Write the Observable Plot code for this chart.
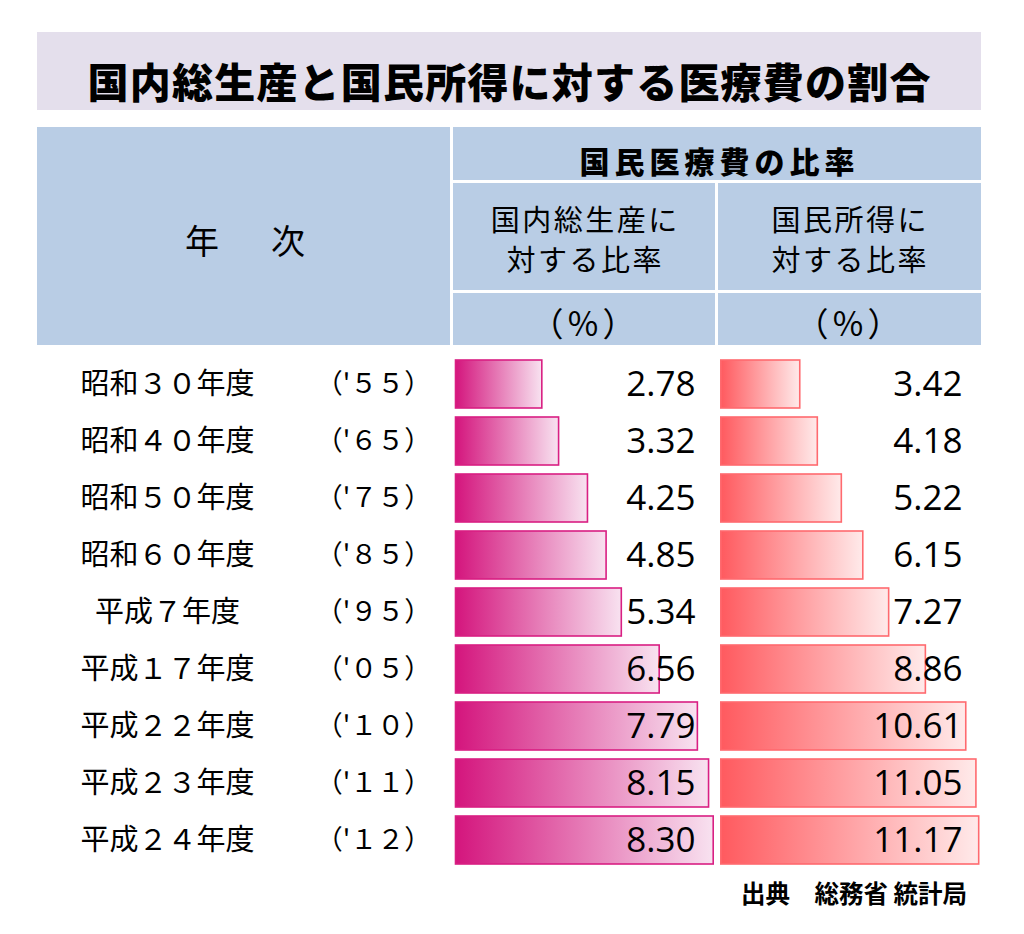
<!DOCTYPE html>
<html>
<head>
<meta charset="utf-8">
<script src="https://cdn.jsdelivr.net/npm/d3@7"></script>
<script src="https://cdn.jsdelivr.net/npm/@observablehq/plot@0.6"></script>
<style>
  html, body { margin: 0; padding: 0; background: #fff; }
  #root { position: relative; width: 1024px; height: 934px; overflow: hidden;
          font-family: "Noto Sans CJK JP", "Noto Sans", sans-serif; color: #000; }
  .abs { position: absolute; }
  .ctext { position: absolute; transform: translate(-50%, -50%); white-space: nowrap; line-height: 1; }
</style>
</head>
<body>
<div id="root"></div>
<script>
// ---- data ----
const eraLabels = ["昭和３０年度","昭和４０年度","昭和５０年度","昭和６０年度","平成７年度","平成１７年度","平成２２年度","平成２３年度","平成２４年度"];
const westernLabels = ["（'５５）","（'６５）","（'７５）","（'８５）","（'９５）","（'０５）","（'１０）","（'１１）","（'１２）"];
const gdpRatio = [2.78, 3.32, 4.25, 4.85, 5.34, 6.56, 7.79, 8.15, 8.30];
const incomeRatio = [3.42, 4.18, 5.22, 6.15, 7.27, 8.86, 10.61, 11.05, 11.17];

const titleText = "国内総生産と国民所得に対する医療費の割合";
const headYear = "年　次";
const headGroup = "国民医療費の比率";
const headGdp = ["国内総生産に", "対する比率"];
const headIncome = ["国民所得に", "対する比率"];
const headUnit = "（％）";
const sourceText = "出典　総務省 統計局";

const rows = eraLabels.map((era, i) => ({era, west: westernLabels[i], gdp: gdpRatio[i], income: incomeRatio[i]}));

const root = document.getElementById("root");
function box(left, top, w, h, bg) {
  const d = document.createElement("div");
  d.className = "abs";
  Object.assign(d.style, {left: left + "px", top: top + "px", width: w + "px", height: h + "px", background: bg});
  root.appendChild(d);
  return d;
}
function ctext(txt, x, y, size, weight, ls) {
  const d = document.createElement("div");
  d.className = "ctext";
  d.textContent = txt;
  Object.assign(d.style, {left: x + "px", top: y + "px", fontSize: size + "px", fontWeight: weight,
    letterSpacing: (ls || 0) + "px", paddingLeft: (ls || 0) + "px"});
  root.appendChild(d);
  return d;
}

// ---- title ----
box(37, 32, 944, 78, "#e4dfec");
ctext(titleText, 509, 80, 41, 900, 1.2);

// ---- header ----
box(37, 127, 944, 218, "#b9cde5");
box(450, 127, 3, 218, "#fff");
box(453, 180, 528, 3, "#fff");
box(715, 183, 3, 162, "#fff");
box(453, 290, 528, 3, "#fff");
ctext(headYear, 245, 240, 34, 400, 9);
ctext(headGroup, 717, 160, 30, 900, 5);
ctext(headGdp[0], 584, 218, 29, 400, 2.5);
ctext(headGdp[1], 584, 258, 29, 400, 2.5);
ctext(headIncome[0], 849, 218, 29, 400, 2.5);
ctext(headIncome[1], 849, 258, 29, 400, 2.5);
ctext(headUnit, 583, 322, 33, 400, 3);
ctext(headUnit, 848, 322, 33, 400, 3);

// ---- caption ----
const cap = document.createElement("div");
cap.className = "abs";
cap.textContent = sourceText;
Object.assign(cap.style, {right: "57px", top: "881px", fontSize: "24.5px", fontWeight: 700, lineHeight: "1", whiteSpace: "nowrap"});
root.appendChild(cap);

// ---- gradient helper ----
function addGradient(svg, id, c0, c1) {
  const defs = d3.create("svg:defs");
  const g = defs.append("linearGradient").attr("id", id).attr("x1", "0").attr("x2", "1").attr("y1", "0").attr("y2", "0");
  g.append("stop").attr("offset", "0%").attr("stop-color", c0);
  g.append("stop").attr("offset", "100%").attr("stop-color", c1);
  svg.insertBefore(defs.node(), svg.firstChild);
}

const numFont = "'Open Sans', 'DejaVu Sans', sans-serif";
const cjkFont = "'Noto Sans CJK JP', sans-serif";
const yOpts = {domain: eraLabels, axis: null, paddingInner: 0.16, paddingOuter: 0.08};

// ---- plot A: labels + GDP ratio bars ----
const plotA = Plot.plot({
  width: 716, height: 516,
  marginLeft: 455.5, marginRight: 0, marginTop: 0, marginBottom: 0,
  x: {domain: [0, 8.39], axis: null},
  y: yOpts,
  style: {background: "transparent", overflow: "visible", color: "#000"},
  marks: [
    Plot.barX(rows, {x: "gdp", y: "era", fill: "url(#gradGdp)", stroke: "#d91f83", strokeWidth: 1.6}),
    Plot.text(rows, {y: "era", text: "era", frameAnchor: "left", dx: 167 - 455.5, textAnchor: "middle",
      fontSize: 29, fontFamily: cjkFont, fill: "#000"}),
    Plot.text(rows, {y: "era", text: "west", frameAnchor: "left", dx: 373 - 455.5, textAnchor: "middle",
      fontSize: 27, fontFamily: cjkFont, fill: "#000"}),
    Plot.text(rows, {y: "era", text: d => d.gdp.toFixed(2), frameAnchor: "right", dx: -21, textAnchor: "end",
      fontSize: 35, fontFamily: numFont, fill: "#000"})
  ]
});
addGradient(plotA, "gradGdp", "#d4157d", "#f8e2f0");
Object.assign(plotA.style, {position: "absolute", left: "0px", top: "354px"});
root.appendChild(plotA);

// ---- plot B: national income ratio bars ----
const plotB = Plot.plot({
  width: 265, height: 516,
  marginLeft: 4.8, marginRight: 0, marginTop: 0, marginBottom: 0,
  x: {domain: [0, 11.27], axis: null},
  y: yOpts,
  style: {background: "transparent", overflow: "visible", color: "#000"},
  marks: [
    Plot.barX(rows, {x: "income", y: "era", fill: "url(#gradIncome)", stroke: "#ff6a6f", strokeWidth: 1.6}),
    Plot.text(rows, {y: "era", text: d => d.income.toFixed(2), frameAnchor: "right", dx: -19, textAnchor: "end",
      fontSize: 35, fontFamily: numFont, fill: "#000"})
  ]
});
addGradient(plotB, "gradIncome", "#ff5a5f", "#ffeaea");
Object.assign(plotB.style, {position: "absolute", left: "716px", top: "354px"});
root.appendChild(plotB);
</script>
</body>
</html>
